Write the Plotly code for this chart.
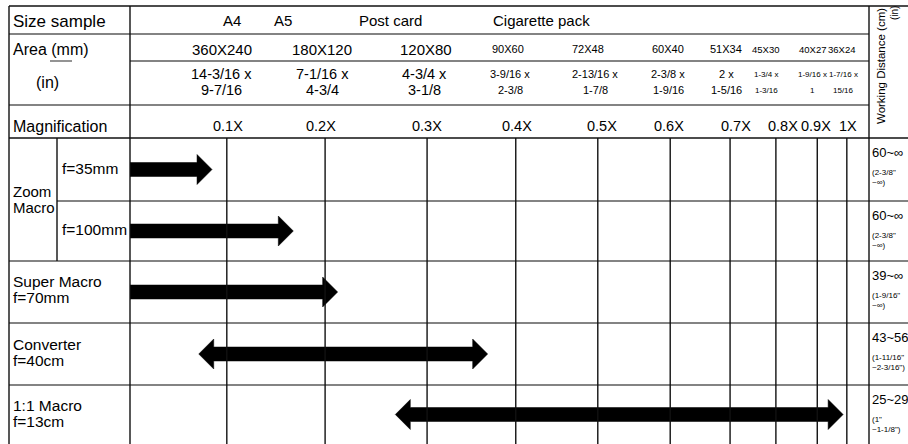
import plotly.graph_objects as go

W, H = 908, 444

# ── Data ───────────────────────────────────────────────────────────────────
SAMPLE_NAMES = ["A4", "A5", "Post card", "Cigarette pack"]

MAGS = ["0.1X", "0.2X", "0.3X", "0.4X", "0.5X", "0.6X", "0.7X", "0.8X", "0.9X", "1X"]
# position of each magnification on the printed scale (% of the scale width)
MAG_POS = [13.1, 26.4, 40.2, 52.2, 63.3, 73.1, 81.2, 87.4, 93.0, 97.0]

AREA_MM = ["360X240", "180X120", "120X80", "90X60", "72X48",
           "60X40", "51X34", "45X30", "40X27", "36X24"]
AREA_IN_1 = ["14-3/16 x", "7-1/16 x", "4-3/4 x", "3-9/16 x", "2-13/16 x",
             "2-3/8 x", "2 x", "1-3/4 x", "1-9/16 x", "1-7/16 x"]
AREA_IN_2 = ["9-7/16", "4-3/4", "3-1/8", "2-3/8", "1-7/8",
             "1-9/16", "1-5/16", "1-3/16", "1", "15/16"]

LENSES = ["f=35mm", "f=100mm", "Super Macro", "Converter", "1:1 Macro"]
ARROW_FROM = [0.0, 0.0, 0.0, 9.3, 35.9]
ARROW_TO = [11.1, 22.1, 28.1, 48.4, 96.5]
ARROW_BOTH = [False, False, False, True, True]

WD_CM = ["60~∞", "60~∞", "39~∞", "43~56", "25~29"]
WD_IN_1 = ['(2-3/8"', '(2-3/8"', '(1-9/16"', '(1-11/16"', '(1"']
WD_IN_2 = ["~∞)", "~∞)", "~∞)", '~2-3/16")', '~1-1/8")']

# ── Layout of the table (pixels) ───────────────────────────────────────────
LEFT, LABEL_X, SUB_X, CHART_R, RIGHT = 9, 130, 57, 869, 908
TOP = 6
HEAD_LINES = [34, 61, 105]
ROW_EDGES = [138, 201, 261, 323, 385, 444]
PX_PER_UNIT = (CHART_R - LABEL_X) / 100

SAMPLE_PX = [232, 283, 390, 541]
AREA_PX = [222, 322, 426, 508, 588, 668, 726, 765, 812, 841]
INCH_PX = [221, 322, 424, 510, 595, 668, 726, 766, 812, 843]
MAG_PX = [228, 321, 427, 517, 602, 669, 736, 783, 816, 848]

FONT = "Liberation Sans, Arial, Helvetica, sans-serif"
INK = "#111111"
GREY = "#5a5a5a"

fig = go.Figure()


def hline(y, x0, x1, color=GREY, width=1.3):
    fig.add_shape(type="line", xref="paper", yref="y", x0=x0 / W, x1=x1 / W,
                  y0=y, y1=y, line=dict(color=color, width=width))


def vline(x, y0, y1, color=INK, width=1.4):
    fig.add_shape(type="line", xref="paper", yref="y", x0=x / W, x1=x / W,
                  y0=y0, y1=y1, line=dict(color=color, width=width))


def text(s, x, y, size=16, anchor="center", angle=0):
    fig.add_annotation(text=s, xref="paper", yref="y", x=x / W, y=y,
                       xanchor=anchor, yanchor="middle", showarrow=False,
                       borderpad=0, textangle=angle,
                       font=dict(family=FONT, size=size, color="#000"))


# table frame
hline(TOP, LEFT, RIGHT, INK)
for y in HEAD_LINES:
    hline(y, LABEL_X if y == 61 else LEFT, CHART_R)
hline(61, 50, 72)
for i, y in enumerate(ROW_EDGES[:-1]):
    hline(y, SUB_X if i == 1 else LEFT, RIGHT, INK if i == 0 else GREY)
vline(LEFT, TOP, H)
vline(LABEL_X, TOP, H)
vline(CHART_R, TOP, H)
vline(SUB_X, ROW_EDGES[0], ROW_EDGES[2])

# magnification grid on the scale axis
for p in MAG_POS:
    fig.add_shape(type="line", xref="x", yref="y", x0=p, x1=p,
                  y0=ROW_EDGES[0], y1=H, line=dict(color=INK, width=1.4))

# arrows
BODY, HEAD, HEAD_LEN = 7, 15, 15 / PX_PER_UNIT
for i, name in enumerate(LENSES):
    yc = (ROW_EDGES[i] + ROW_EDGES[i + 1]) / 2
    x0, x1 = ARROW_FROM[i], ARROW_TO[i]
    xs, ys = [], []
    if ARROW_BOTH[i]:
        xs += [x0, x0 + HEAD_LEN, x0 + HEAD_LEN]
        ys += [yc, yc - HEAD, yc - BODY]
    else:
        xs += [x0]
        ys += [yc - BODY]
    xs += [x1 - HEAD_LEN, x1 - HEAD_LEN, x1, x1 - HEAD_LEN, x1 - HEAD_LEN]
    ys += [yc - BODY, yc - HEAD, yc, yc + HEAD, yc + BODY]
    if ARROW_BOTH[i]:
        xs += [x0 + HEAD_LEN, x0 + HEAD_LEN, x0]
        ys += [yc + BODY, yc + HEAD, yc]
    else:
        xs += [x0, x0]
        ys += [yc + BODY, yc - BODY]
    fig.add_trace(go.Scatter(x=xs, y=ys, mode="lines", fill="toself",
                             fillcolor="#000", line=dict(color="#000", width=0.5),
                             hoverinfo="skip", showlegend=False, name=name))

# header text
text("Size sample", 12, 21, 17, anchor="left")
text("Area (mm)", 12, 49, 16, anchor="left")
text("(in)", 47, 82, 16)
text("Magnification", 12, 126, 16, anchor="left")
for s, x in zip(SAMPLE_NAMES, SAMPLE_PX):
    text(s, x, 20, 15)
for i in range(len(MAGS)):
    if i < 3:
        sz_mm, sz_in = 15, 14.5
    elif i < 7:
        sz_mm, sz_in = 11, 11
    else:
        sz_mm, sz_in = 9.5, 8
    text(AREA_MM[i], AREA_PX[i], 49, sz_mm)
    text(AREA_IN_1[i], INCH_PX[i], 74, sz_in)
    text(AREA_IN_2[i], INCH_PX[i], 90, sz_in)
    text(MAGS[i], MAG_PX[i], 126, 14.5)

# row labels
text("Zoom", 12, 191, 15, anchor="left")
text("Macro", 12, 207, 15, anchor="left")
text("f=35mm", 61, 168, 15.5, anchor="left")
text("f=100mm", 61, 229, 15.5, anchor="left")
text("Super Macro", 12, 281, 15.5, anchor="left")
text("f=70mm", 12, 297, 15.5, anchor="left")
text("Converter", 12, 344, 15.5, anchor="left")
text("f=40cm", 12, 360, 15.5, anchor="left")
text("1:1 Macro", 12, 405, 15.5, anchor="left")
text("f=13cm", 12, 421, 15.5, anchor="left")

# working distance column
text("Working Distance (cm)", 881, 66, 11.5, angle=-90)
text("(in)", 894, 13, 10, angle=-90)
for i in range(len(WD_CM)):
    top = ROW_EDGES[i]
    text(WD_CM[i], 871, top + 14, 13, anchor="left")
    text(WD_IN_1[i], 871, top + 34, 8, anchor="left")
    text(WD_IN_2[i], 871, top + 44, 8, anchor="left")

fig.update_layout(
    width=W, height=H,
    margin=dict(l=0, r=0, t=0, b=0),
    paper_bgcolor="white", plot_bgcolor="white",
    showlegend=False,
    xaxis=dict(domain=[LABEL_X / W, CHART_R / W], range=[0, 100], visible=False, fixedrange=True),
    yaxis=dict(domain=[0, 1], range=[H, 0], visible=False, fixedrange=True),
)

fig.write_html("out.html", config={"displayModeBar": False},
               post_script="document.body.style.margin = '0';")
